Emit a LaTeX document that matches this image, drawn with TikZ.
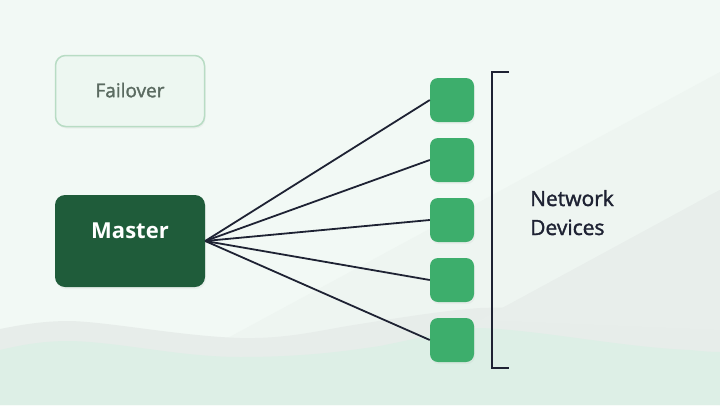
\documentclass[tikz,border=0pt]{standalone}
\usepackage{fontspec}
\setmainfont{Open Sans}
\newfontfamily\semifont[FakeBold=1.6]{Open Sans}
\usetikzlibrary{shadows}
\definecolor{bgtop}{HTML}{F2F9F5}
\definecolor{bgdiag}{HTML}{EEF5F1}
\definecolor{bggrey}{HTML}{E8EEEB}
\definecolor{wavegrey}{HTML}{E7EDEA}
\definecolor{wavegreen}{HTML}{DDEFE6}
\definecolor{failfill}{HTML}{EDF7F1}
\definecolor{failborder}{HTML}{B8DCC4}
\definecolor{failtext}{HTML}{5B6B61}
\definecolor{masterfill}{HTML}{1F5C3A}
\definecolor{devfill}{HTML}{3DAE6C}
\definecolor{ink}{HTML}{1E2233}
\tikzset{
  boxshadow/.style={drop shadow={opacity=0.07,shadow xshift=1pt,shadow yshift=-2pt}},
  failbox/.style={draw=failborder,line width=1.5pt,fill=failfill,rounded corners=10pt,
    minimum width=149pt,minimum height=71pt,inner sep=0pt,text=failtext,font=\semifont\fontsize{19}{22}\selectfont,boxshadow},
  masterbox/.style={fill=masterfill,rounded corners=10pt,minimum width=150pt,minimum height=92pt,
    inner sep=0pt,text=white,font=\fontsize{22}{26}\selectfont\bfseries,boxshadow},
  devbox/.style={fill=devfill,rounded corners=8pt,minimum width=44pt,minimum height=44pt,inner sep=0pt,boxshadow},
  link/.style={draw=ink,line width=1.8pt},
  bracket/.style={draw=ink,line width=2pt},
  label/.style={text=ink,font=\semifont\fontsize{21}{29}\selectfont,align=left,inner sep=0pt}
}
\begin{document}
\begin{tikzpicture}[x=1pt,y=-1pt]
\useasboundingbox (0,0) rectangle (720,405);
% background
\fill[bgtop] (0,0) rectangle (720,405);
\fill[bgdiag] (720,72) -- (150,380) -- (720,405) -- cycle;
\fill[bggrey] (720,190) -- (380,375) -- (720,405) -- cycle;
\fill[wavegrey] (0,329) .. controls (25,324) and (45,321) .. (70,321)
  .. controls (110,322) and (180,336) .. (240,338)
  .. controls (290,339) and (320,330) .. (360,324)
  .. controls (410,316) and (450,310) .. (480,308)
  .. controls (530,306) and (600,312) .. (720,330) -- (720,405) -- (0,405) -- cycle;
\fill[bggrey] (720,190) -- (480,320) -- (720,330) -- cycle;
\fill[wavegreen] (0,350) .. controls (25,344) and (45,341) .. (70,341)
  .. controls (120,342) and (180,357) .. (240,357)
  .. controls (300,357) and (340,352) .. (380,346)
  .. controls (420,338) and (450,330) .. (480,328)
  .. controls (540,330) and (620,347) .. (690,350)
  .. controls (700,351) and (710,352) .. (720,352) -- (720,405) -- (0,405) -- cycle;
% nodes
\node[failbox] (fail) at (130,91) {\raisebox{2pt}{Failover}};
\node[masterbox] (master) at (130,241) {\raisebox{20pt}{Master}};
\foreach \i/\y in {1/100,2/160,3/220,4/280,5/340}{
  \node[devbox] (d\i) at (452,\y) {};
}
\foreach \i in {1,...,5}{
  \draw[link] (master.east) -- (d\i.west);
}
% bracket
\coordinate (bt) at (509,72);
\coordinate (bb) at (509,368);
\draw[bracket] (bt) -- (492,72) -- (492,368) -- (bb);
\node[label,anchor=base west] (lab) at (530,235) {Network\\Devices};
\end{tikzpicture}
\end{document}
